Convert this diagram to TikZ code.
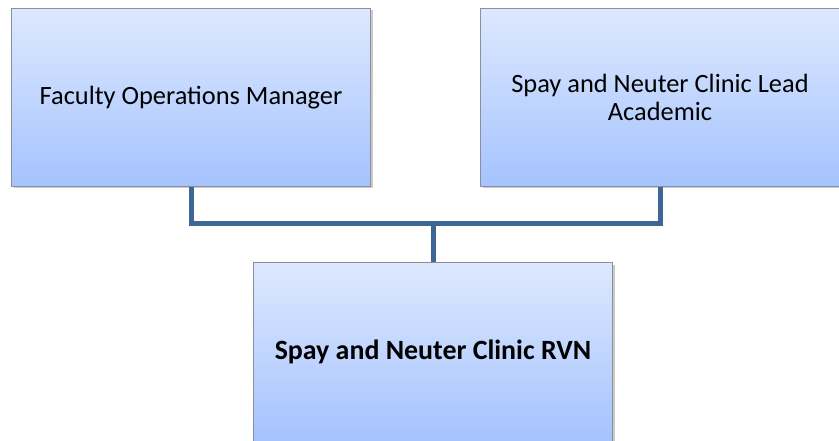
\documentclass[tikz,border=0pt]{standalone}
\usepackage{fontspec}
\setmainfont{Carlito}
\usetikzlibrary{shadows}
\definecolor{boxtop}{HTML}{DDE8FE}
\definecolor{boxbot}{HTML}{A5C3FE}
\definecolor{boxline}{HTML}{8A8F98}
\definecolor{conn}{HTML}{3F6796}
\tikzset{
  orgbox/.style={rectangle, draw=boxline, line width=1pt, top color=boxtop, bottom color=boxbot,
    minimum width=359pt, minimum height=178pt, inner sep=0pt, align=center,
    font=\fontsize{26.4pt}{28.3pt}\selectfont,
    drop shadow={shadow xshift=2pt, shadow yshift=-2pt, opacity=0.35, fill=black!60}},
  conline/.style={draw=conn, line width=5pt, line join=miter}
}
\begin{document}
\begin{tikzpicture}[x=1pt,y=-1pt]
\useasboundingbox (0,0) rectangle (839,441);
\node[orgbox] (L) at (191,97.5) {Faculty Operations Manager};
\node[orgbox] (R) at (660,97.5) {Spay and Neuter Clinic Lead\\Academic};
\node[orgbox, font=\fontsize{27.9pt}{30pt}\selectfont\bfseries] (B) at (433,352) {Spay and Neuter Clinic RVN};
\coordinate (J) at (433,224);
\draw[conline] (L.south) -- (L.south |- J) -- (R.south |- J) -- (R.south);
\draw[conline] (J) -- (B.north);
\end{tikzpicture}
\end{document}
